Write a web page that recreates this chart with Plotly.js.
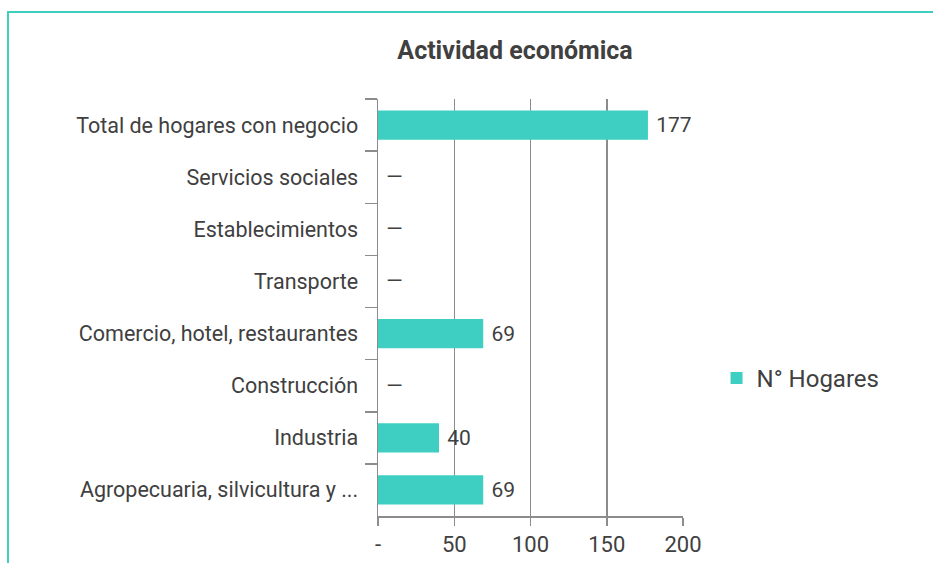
<!DOCTYPE html>
<html>
<head>
<meta charset="utf-8">
<script src="https://cdn.plot.ly/plotly-3.0.1.min.js"></script>
<style>
  html, body { margin: 0; padding: 0; background: #ffffff; }
  #wrap { position: relative; width: 933px; height: 563px; }
  #frame { position: absolute; left: 7px; top: 11px; width: 926px; height: 552px;
           border-top: 2px solid #3ecfc0; border-left: 2px solid #3ecfc0; box-sizing: border-box; pointer-events: none; }
  #chart { position: absolute; left: 0; top: 0; width: 933px; height: 563px; }
</style>
</head>
<body>
<div id="wrap">
  <div id="chart"></div>
  <div id="frame"></div>
</div>
<script>
const categories = [
  "Total de hogares con negocio",
  "Servicios sociales",
  "Establecimientos",
  "Transporte",
  "Comercio, hotel, restaurantes",
  "Construcción",
  "Industria",
  "Agropecuaria, silvicultura y ..."
];
const hogares = [177, 0, 0, 0, 69, 0, 40, 69];
const seriesName = "N° Hogares";
const xTickVals = [0, 50, 100, 150, 200];
const xTickText = ["-", "50", "100", "150", "200"];

const labels = hogares.map(v => v === 0 ? " —" : " " + String(v));
const FONT = "Roboto, 'DejaVu Sans', sans-serif";

const trace = {
  type: "bar",
  orientation: "h",
  y: categories,
  x: hogares,
  name: seriesName,
  marker: { color: "#3ecfc2" },
  text: labels,
  textposition: "outside",
  cliponaxis: false,
  textfont: { family: FONT, size: 21, color: "#404040" },
  hoverinfo: "x+y"
};

const layout = {
  width: 933,
  height: 563,
  paper_bgcolor: "rgba(0,0,0,0)",
  plot_bgcolor: "rgba(0,0,0,0)",
  margin: { l: 378, r: 250, t: 99, b: 47 },
  title: {
    text: "<b>Actividad económica</b>",
    font: { family: FONT, size: 25, color: "#404040" },
    x: 0.552, xanchor: "center",
    y: 0.91, yanchor: "middle"
  },
  bargap: 0.44,
  showlegend: true,
  legend: {
    x: 1.11, xanchor: "left",
    y: 0.33, yanchor: "middle",
    font: { family: FONT, size: 24, color: "#404040" },
    bgcolor: "rgba(0,0,0,0)"
  },
  xaxis: {
    range: [0, 200],
    tickvals: xTickVals,
    ticktext: xTickText,
    showgrid: true,
    gridcolor: "#8c8c8c",
    gridwidth: 1.5,
    zeroline: false,
    showline: true,
    linecolor: "#8c8c8c",
    linewidth: 1.5,
    ticks: "outside",
    ticklen: 8,
    tickcolor: "#8c8c8c",
    tickwidth: 1.5,
    tickfont: { family: FONT, size: 22, color: "#404040" },
    fixedrange: true
  },
  yaxis: {
    autorange: "reversed",
    showgrid: false,
    zeroline: false,
    showline: true,
    linecolor: "#8c8c8c",
    linewidth: 1.5,
    ticks: "outside",
    tickson: "boundaries",
    ticklen: 12,
    tickcolor: "#8c8c8c",
    tickwidth: 1.5,
    ticklabelstandoff: 14,
    tickfont: { family: FONT, size: 21.5, color: "#404040" },
    fixedrange: true
  }
};

Plotly.newPlot("chart", [trace], layout, { displayModeBar: false, staticPlot: true });
</script>
</body>
</html>
